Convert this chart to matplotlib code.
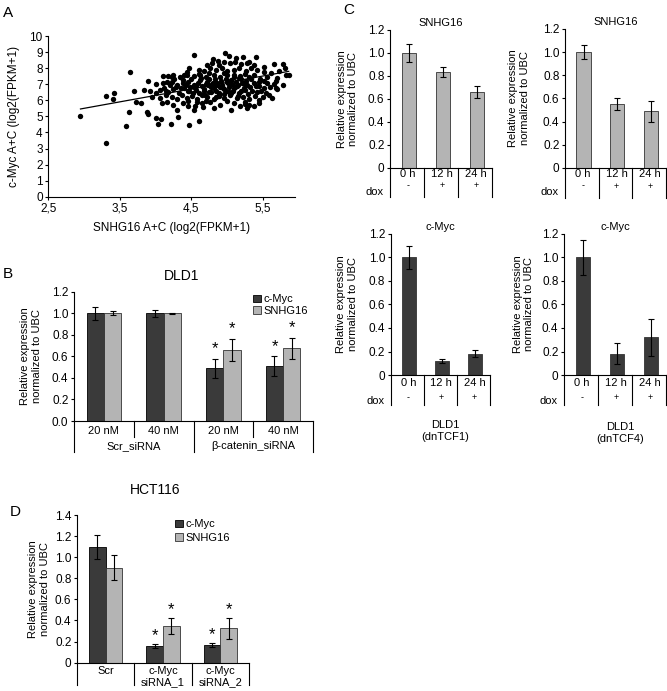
import matplotlib
matplotlib.use('Agg')
import matplotlib.pyplot as plt
import numpy as np

plt.rcParams['font.family'] = ['Liberation Sans', 'DejaVu Sans']
plt.rcParams['font.size'] = 8
plt.rcParams['axes.linewidth'] = 0.8

DARK = '#3a3a3a'
LIGHT = '#b4b4b4'

# ---------------- Panel A data (SNHG16 vs c-Myc, log2(FPKM+1)) ----------------
snhg16_expr = [
    4.53, 4.97, 5.41, 4.80, 4.87, 5.03, 5.12, 5.22, 5.30,
    4.72, 4.79, 4.88, 4.96, 5.04, 5.11, 5.19, 5.28, 5.37, 5.65, 5.78, 5.51,
    4.47, 4.60, 4.67, 4.76, 4.85, 4.93, 5.00, 5.09, 5.17, 5.26, 5.33, 5.42, 5.51, 5.61, 5.72, 5.81, 3.64, 4.44,
    4.11, 4.18, 4.23, 4.34, 4.44, 4.53, 4.62, 4.71, 4.81, 4.90, 5.00, 5.09, 5.18, 5.30, 5.37, 5.46, 5.56, 5.70, 5.83, 5.86,
    3.89, 4.00, 4.10, 4.16, 4.23, 4.30, 4.39, 4.46, 4.53, 4.59, 4.65, 4.72, 4.79, 4.86, 4.93, 5.00, 5.07, 5.14, 5.21, 5.28, 5.37, 5.45, 5.56, 5.68, 5.78,
    3.70, 3.84, 3.92, 4.00, 4.06, 4.12, 4.18, 4.25, 4.33, 4.40, 4.47, 4.54, 4.60, 4.67, 4.74, 4.81, 4.88, 4.96, 5.03, 5.10, 5.17, 5.25, 5.32, 5.42, 5.51, 5.68, 3.42,
    3.30, 3.41, 3.95, 4.06, 4.15, 4.23, 4.30, 4.37, 4.44, 4.51, 4.58, 4.65, 4.72, 4.81, 4.88, 4.96, 5.04, 5.14, 5.22, 5.30, 5.39, 5.58, 5.63,
    3.72, 3.80, 4.09, 4.16, 4.25, 4.39, 4.46, 4.55, 4.65, 4.76, 4.90, 5.09, 5.25, 5.37, 5.44, 5.18,
    3.63, 3.88, 4.30, 4.53, 4.66, 4.81, 5.06, 5.31,
    3.89, 4.01, 4.08, 4.03, 4.21, 4.32, 4.47, 4.60, 3.58, 2.95, 3.31,
    4.50, 4.56, 4.62, 4.68, 4.70, 4.75, 4.77, 4.83, 4.84, 4.90, 4.92, 4.95, 4.98, 5.02, 5.05, 5.08, 5.12, 5.15, 5.20, 5.23, 5.27,
    4.48, 4.52, 4.57, 4.63, 4.69, 4.73, 4.78, 4.80, 4.86, 4.89, 4.94, 4.99, 5.01, 5.06, 5.11, 5.16, 5.19, 5.24, 5.29,
    4.42, 4.45, 4.36, 4.38, 4.28, 4.20, 4.14, 4.26, 5.33, 5.35, 5.40, 5.44, 5.48, 5.52, 5.55, 5.60, 5.65, 5.70,
    4.60, 4.75, 4.95, 5.10, 5.25, 4.40, 4.25, 4.70, 4.85, 5.00, 5.15, 4.58, 4.45, 5.25, 5.45, 5.50, 5.28,
]
cmyc_expr = [
    8.80, 8.96, 8.69, 8.55, 8.46, 8.76, 8.61, 8.71, 8.40,
    8.20, 8.34, 8.20, 8.38, 8.30, 8.38, 8.26, 8.30, 8.17, 8.26, 8.26, 8.09,
    8.03, 7.88, 7.84, 7.99, 7.88, 7.99, 7.84, 7.88, 7.99, 7.84, 7.99, 7.88, 7.78, 7.68, 7.84, 7.99, 7.78, 7.78,
    7.51, 7.51, 7.47, 7.43, 7.57, 7.51, 7.57, 7.43, 7.57, 7.47, 7.57, 7.43, 7.51, 7.43, 7.57, 7.30, 7.43, 7.37, 7.57, 7.57,
    7.20, 7.01, 7.05, 7.16, 7.16, 6.95, 7.10, 7.16, 6.95, 7.10, 6.89, 7.16, 7.01, 7.10, 6.95, 7.16, 7.01, 6.89, 7.10, 6.95, 7.05, 6.89, 7.05, 7.22, 6.95,
    6.60, 6.62, 6.60, 6.43, 6.64, 6.74, 6.54, 6.68, 6.47, 6.74, 6.60, 6.80, 6.47, 6.68, 6.54, 6.74, 6.47, 6.68, 6.54, 6.74, 6.47, 6.64, 6.80, 6.54, 6.74, 6.74, 6.47,
    6.27, 6.08, 6.22, 6.12, 6.33, 6.18, 6.06, 6.33, 6.12, 6.27, 6.06, 6.33, 6.18, 6.06, 6.27, 6.12, 6.33, 6.12, 6.22, 6.06, 6.27, 6.33, 6.12,
    5.91, 5.81, 5.81, 5.91, 5.71, 5.85, 5.64, 5.64, 5.81, 5.91, 5.71, 5.81, 5.91, 5.62, 6.02, 5.64,
    5.27, 5.25, 5.39, 5.39, 5.58, 5.50, 5.37, 5.71,
    5.15, 4.88, 4.83, 4.50, 4.54, 4.96, 4.46, 4.71, 4.38, 5.04, 3.36,
    7.30, 6.90, 7.25, 6.55, 7.00, 7.30, 6.80, 7.30, 6.60, 6.85, 7.20, 6.40, 7.35, 6.85, 7.25, 6.60, 7.15, 6.95, 7.30, 6.75, 7.20,
    6.85, 6.45, 6.65, 7.40, 6.35, 6.95, 6.50, 7.10, 6.95, 6.35, 6.75, 6.55, 7.05, 6.45, 6.85, 7.40, 6.55, 7.05, 6.40,
    6.95, 6.55, 6.75, 7.25, 6.85, 6.95, 6.55, 7.30, 7.30, 6.60, 6.90, 7.15, 6.60, 7.20, 6.45, 6.85, 7.00, 6.70,
    7.65, 7.70, 7.70, 7.60, 7.65, 7.55, 7.60, 5.95, 6.20, 5.95, 6.25, 5.90, 5.95, 5.75, 5.85, 6.20, 5.55,
]
fit_x = [2.95, 5.86]
fit_y = [5.46, 7.80]
a_xticks = [2.5, 3.5, 4.5, 5.5]
a_xticklabels = ['2,5', '3,5', '4,5', '5,5']

# ---------------- Panel B data (DLD1) ----------------
b_sub = ['20 nM', '40 nM', '20 nM', '40 nM']
b_groups = ['Scr_siRNA', 'β-catenin_siRNA']
b_cmyc = [1.00, 1.00, 0.49, 0.51]
b_cmyc_err = [0.06, 0.035, 0.09, 0.09]
b_snhg = [1.00, 1.00, 0.66, 0.675]
b_snhg_err = [0.02, 0.006, 0.105, 0.10]
b_sig = [False, False, True, True]

# ---------------- Panel C data ----------------
c_times = ['0 h', '12 h', '24 h']
c_dox = ['-', '+', '+']
c_snhg_tcf1 = [1.00, 0.835, 0.66]
c_snhg_tcf1_err = [0.075, 0.045, 0.055]
c_snhg_tcf4 = [1.00, 0.55, 0.49]
c_snhg_tcf4_err = [0.06, 0.05, 0.09]
c_myc_tcf1 = [1.00, 0.12, 0.18]
c_myc_tcf1_err = [0.095, 0.02, 0.03]
c_myc_tcf4 = [1.00, 0.18, 0.32]
c_myc_tcf4_err = [0.15, 0.09, 0.16]

# ---------------- Panel D data (HCT116) ----------------
d_cats = ['Scr', 'c-Myc\nsiRNA_1', 'c-Myc\nsiRNA_2']
d_cmyc = [1.10, 0.155, 0.17]
d_cmyc_err = [0.115, 0.02, 0.02]
d_snhg = [0.90, 0.35, 0.325]
d_snhg_err = [0.12, 0.075, 0.10]
d_sig = [False, True, True]

YLABEL = 'Relative expression\nnormalized to UBC'
ERR_KW = dict(elinewidth=0.8, capsize=2, capthick=0.8, ecolor='black')
TICK_FS = 8.5
LAB_FS = 8

fig = plt.figure(figsize=(6.67, 6.91), dpi=100)


def W(px):
    return px / 667.0


def H(py):
    return 1 - py / 691.0


def style_axes(ax):
    ax.spines['top'].set_visible(False)
    ax.spines['right'].set_visible(False)
    ax.tick_params(axis='y', length=2.5, width=0.8, pad=1.5, labelsize=TICK_FS)


def vline(ax, x, y0, y1):
    ax.plot([x, x], [y0, y1], transform=ax.get_xaxis_transform(),
            color='black', lw=0.8, clip_on=False)


# ================= Panel A =================
axA = fig.add_axes([0.0724, 0.7153, 0.370, 0.2326])
axA.scatter(snhg16_expr, cmyc_expr, s=15, c='black', linewidths=0)
axA.plot(fit_x, fit_y, color='black', lw=0.9)
axA.set_xlim(2.5, 5.95)
axA.set_ylim(0, 10)
axA.set_xticks(a_xticks)
axA.set_xticklabels(a_xticklabels)
axA.set_yticks(range(0, 11))
style_axes(axA)
axA.tick_params(axis='x', length=2.5, width=0.8, pad=2, labelsize=8.5)
axA.tick_params(axis='y', labelsize=8.5)
axA.set_xlabel('SNHG16 A+C (log2(FPKM+1)', fontsize=8.5)
axA.xaxis.set_label_coords(0.5, -0.16)
axA.set_ylabel('c-Myc A+C (log2(FPKM+1)', fontsize=8.5)
axA.yaxis.set_label_coords(-0.115, 0.5)

# ================= Panel B =================
axB = fig.add_axes([0.111, 0.3907, 0.3583, 0.1871])
xb = np.arange(len(b_sub)) + 0.5
wb = 0.29
axB.bar(xb - wb / 2, b_cmyc, wb, yerr=b_cmyc_err, color=DARK, edgecolor='black',
        lw=0.6, error_kw=ERR_KW, label='c-Myc')
axB.bar(xb + wb / 2, b_snhg, wb, yerr=b_snhg_err, color=LIGHT, edgecolor='#333333',
        lw=0.6, error_kw=ERR_KW, label='SNHG16')
for i, s in enumerate(b_sig):
    if s:
        axB.annotate('*', (xb[i] - wb / 2, b_cmyc[i] + b_cmyc_err[i]), xytext=(0, 1.5),
                     textcoords='offset points', ha='center', va='bottom', fontsize=12)
        axB.annotate('*', (xb[i] + wb / 2, b_snhg[i] + b_snhg_err[i]), xytext=(0, 1.5),
                     textcoords='offset points', ha='center', va='bottom', fontsize=12)
axB.set_xlim(0, 4)
axB.set_ylim(0, 1.2)
axB.set_yticks(np.arange(0, 1.21, 0.2))
axB.set_yticklabels(['%.1f' % v for v in np.arange(0, 1.21, 0.2)])
axB.set_xticks([])
style_axes(axB)
axB.set_ylabel(YLABEL, fontsize=LAB_FS)
axB.yaxis.set_label_coords(-0.135, 0.5)
for i, lab in enumerate(b_sub):
    axB.text(xb[i], -0.075, lab, transform=axB.get_xaxis_transform(), ha='center',
             va='center', fontsize=LAB_FS)
for i, lab in enumerate(b_groups):
    axB.text(2 * i + 1, -0.195, lab, transform=axB.get_xaxis_transform(), ha='center',
             va='center', fontsize=LAB_FS)
for xx in [1, 3]:
    vline(axB, xx, 0, -0.12)
for xx in [0, 2, 4]:
    vline(axB, xx, 0, -0.24)
axB.legend(loc='upper left', bbox_to_anchor=(0.75, 0.98), frameon=False, handlelength=0.7,
           handleheight=0.7, handletextpad=0.2, labelspacing=0.15, borderaxespad=0,
           borderpad=0, fontsize=LAB_FS)
fig.text(W(182), H(276), 'DLD1', ha='center', va='center', fontsize=10)


# ================= Panel C =================
def panel_c(rect, vals, errs, color, title, ylbl_x, ys):
    ax = fig.add_axes(rect)
    xc = np.arange(len(vals)) + 0.5
    ax.bar(xc + 0.05, vals, 0.42, yerr=errs, color=color, edgecolor='#333333', lw=0.6,
           error_kw=ERR_KW)
    ax.set_xlim(0, 3)
    ax.set_ylim(0, 1.2)
    ticks = np.arange(0, 1.21, 0.2)
    ax.set_yticks(ticks)
    ax.set_yticklabels(['0'] + ['%.1f' % v for v in ticks[1:]])
    ax.set_xticks([])
    style_axes(ax)
    ax.set_title(title, fontsize=LAB_FS, pad=3)
    ax.set_ylabel(YLABEL, fontsize=LAB_FS)
    ax.yaxis.set_label_coords(ylbl_x, 0.5)
    y_t, y_d, y_dox, y_end = ys
    for i in range(len(vals)):
        ax.text(xc[i] + 0.03, y_t, c_times[i], transform=ax.get_xaxis_transform(),
                ha='center', va='center', fontsize=LAB_FS)
        ax.text(xc[i] + 0.03, y_d, c_dox[i], transform=ax.get_xaxis_transform(),
                ha='center', va='center', fontsize=6.5)
    ax.text(-0.06, y_dox, 'dox', transform=ax.transAxes, ha='right', va='center',
            fontsize=LAB_FS)
    for xx in [0, 1, 2, 3]:
        vline(ax, xx, 0, y_end)
    return ax


ys_top = (-0.045, -0.13, -0.175, -0.215)
ys_bot = (-0.055, -0.16, -0.185, -0.215)
panel_c([0.5847, 0.7573, 0.1529, 0.1993], c_snhg_tcf1, c_snhg_tcf1_err, LIGHT, 'SNHG16', -0.31, ys_top)
panel_c([0.8471, 0.7569, 0.1514, 0.2012], c_snhg_tcf4, c_snhg_tcf4_err, LIGHT, 'SNHG16', -0.35, ys_top)
panel_c([0.5858, 0.4573, 0.1489, 0.2041], c_myc_tcf1, c_myc_tcf1_err, DARK, 'c-Myc', -0.33, ys_bot)
panel_c([0.8456, 0.4573, 0.1529, 0.2041], c_myc_tcf4, c_myc_tcf4_err, DARK, 'c-Myc', -0.29, ys_bot)
fig.text(W(445), H(431), 'DLD1\n(dnTCF1)', ha='center', va='center', fontsize=LAB_FS, linespacing=1.25)
fig.text(W(620), H(433), 'DLD1\n(dnTCF4)', ha='center', va='center', fontsize=LAB_FS, linespacing=1.25)

# ================= Panel D =================
axD = fig.add_axes([0.1154, 0.041, 0.2579, 0.2137])
xd = np.arange(len(d_cats)) + 0.5
wd = 0.29
axD.bar(xd - wd / 2, d_cmyc, wd, yerr=d_cmyc_err, color=DARK, edgecolor='black',
        lw=0.6, error_kw=ERR_KW, label='c-Myc')
axD.bar(xd + wd / 2, d_snhg, wd, yerr=d_snhg_err, color=LIGHT, edgecolor='#333333',
        lw=0.6, error_kw=ERR_KW, label='SNHG16')
for i, s in enumerate(d_sig):
    if s:
        axD.annotate('*', (xd[i] - wd / 2, d_cmyc[i] + d_cmyc_err[i]), xytext=(0, 0.5),
                     textcoords='offset points', ha='center', va='bottom', fontsize=12)
        axD.annotate('*', (xd[i] + wd / 2, d_snhg[i] + d_snhg_err[i]), xytext=(0, 0.5),
                     textcoords='offset points', ha='center', va='bottom', fontsize=12)
axD.set_xlim(0, 3)
axD.set_ylim(0, 1.4)
dt = np.arange(0, 1.41, 0.2)
axD.set_yticks(dt)
axD.set_yticklabels(['0'] + ['%.1f' % v for v in dt[1:]])
axD.set_xticks([])
style_axes(axD)
axD.set_ylabel(YLABEL, fontsize=LAB_FS)
axD.yaxis.set_label_coords(-0.157, 0.5)
for i, lab in enumerate(d_cats):
    axD.text(xd[i], -0.025, lab, transform=axD.get_xaxis_transform(), ha='center', va='top',
             linespacing=1.05, fontsize=LAB_FS)
for xx in [0, 1, 2, 3]:
    vline(axD, xx, 0, -0.15)
axD.legend(loc='upper left', bbox_to_anchor=(0.57, 0.97), frameon=False, handlelength=0.7,
           handleheight=0.7, handletextpad=0.2, labelspacing=0.3, borderaxespad=0,
           borderpad=0, fontsize=LAB_FS)
fig.text(W(155), H(490), 'HCT116', ha='center', va='center', fontsize=10)

# Panel letters
fig.text(W(3), H(13), 'A', ha='left', va='center', fontsize=11)
fig.text(W(3), H(274), 'B', ha='left', va='center', fontsize=11)
fig.text(W(343), H(10), 'C', ha='left', va='center', fontsize=11)
fig.text(W(10), H(512), 'D', ha='left', va='center', fontsize=11)

fig.savefig('out.png', dpi=100)
